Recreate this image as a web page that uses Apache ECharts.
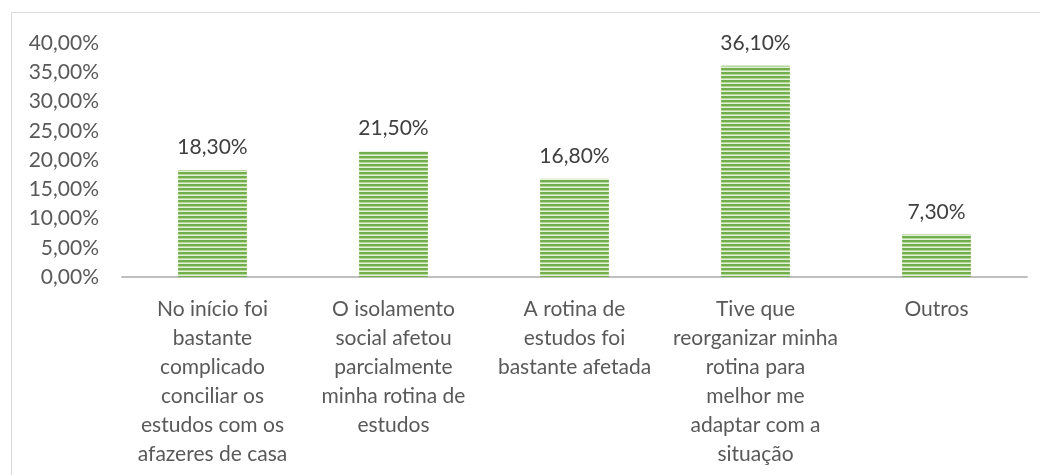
<!DOCTYPE html>
<html>
<head>
<meta charset="utf-8">
<script src="https://cdn.jsdelivr.net/npm/echarts@6/dist/echarts.min.js"></script>
<style>
  html, body { margin: 0; padding: 0; background: #fff; }
  #chart { width: 1040px; height: 475px; }
</style>
</head>
<body>
<div id="chart"></div>
<script>
const categories = [
    "No início foi\nbastante\ncomplicado\nconciliar os\nestudos com os\nafazeres de casa",
    "O isolamento\nsocial afetou\nparcialmente\nminha rotina de\nestudos",
    "A rotina de\nestudos foi\nbastante afetada",
    "Tive que\nreorganizar minha\nrotina para\nmelhor me\nadaptar com a\nsituação",
    "Outros"
];
const values = [18.3, 21.5, 16.8, 36.1, 7.3];

const fmt = (v) => v.toFixed(2).replace(".", ",") + "%";

// horizontal stripe fill like the original
const makeStripes = () => {
    const c = document.createElement("canvas");
    c.width = 4;
    c.height = 4;
    const ctx = c.getContext("2d");
    const rows = ["#72ae4c", "#72ae4c", "#b4d79a", "#e4f1da"];
    rows.forEach((col, i) => {
        ctx.fillStyle = col;
        ctx.fillRect(0, i, 4, 1);
    });
    return c;
};

const font = "Lato";
const chart = echarts.init(document.getElementById("chart"));
chart.setOption({
    animation: false,
    graphic: [{
        type: "rect",
        shape: { x: 11.5, y: 12.5, width: 1100, height: 600 },
        style: { fill: "none", stroke: "#d9d9d9", lineWidth: 1 },
        silent: true
    }],
    grid: { left: 122, right: 13, top: 43, bottom: 198 },
    xAxis: {
        type: "category",
        data: categories,
        axisLine: { lineStyle: { color: "#bfbfbf", width: 2 } },
        axisTick: { show: false },
        axisLabel: {
            interval: 0,
            margin: 18,
            color: "#595959",
            fontFamily: font,
            fontSize: 21,
            lineHeight: 29
        }
    },
    yAxis: {
        type: "value",
        min: 0,
        max: 40,
        interval: 5,
        axisLine: { show: false },
        axisTick: { show: false },
        splitLine: { show: false },
        axisLabel: {
            margin: 23,
            color: "#595959",
            fontFamily: font,
            fontSize: 21,
            formatter: fmt
        }
    },
    series: [{
        type: "bar",
        data: values,
        barWidth: "38%",
        itemStyle: { color: { image: makeStripes(), repeat: "repeat" } },
        label: {
            show: true,
            position: "top",
            distance: 12,
            color: "#404040",
            fontFamily: font,
            fontSize: 21,
            formatter: (p) => fmt(p.value)
        }
    }]
});
</script>
</body>
</html>
